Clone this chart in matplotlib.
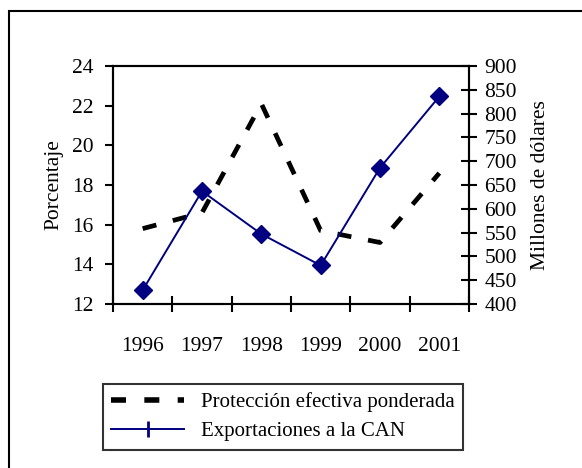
import matplotlib.pyplot as plt
from matplotlib.lines import Line2D
from matplotlib.patches import Rectangle

years = ['1996', '1997', '1998', '1999', '2000', '2001']
proteccion = [15.8, 16.6, 22.1, 15.7, 15.1, 18.6]   # porcentaje
exportaciones = [429, 637, 547, 481, 686, 836]      # millones de dolares

plt.rcParams['font.family'] = ['Liberation Serif', 'DejaVu Serif']
fs = 15.5

fig = plt.figure(figsize=(5.82, 4.68), dpi=100)
ax = fig.add_axes([113 / 582, 1 - 304 / 468, 356 / 582, 238 / 468])
ax2 = ax.twinx()

x = list(range(len(years)))
ax.plot(x, proteccion, color='black', lw=3.4, ls=(0, (3.0, 3.6)), solid_capstyle='butt', zorder=2)
ax2.plot(x, exportaciones, color='#000080', lw=1.4, marker='D', ms=9, zorder=3)

ax.set_xlim(-0.5, 5.5)
ax.set_ylim(12, 24)
ax.set_yticks(range(12, 25, 2))
ax2.set_ylim(400, 900)
ax2.set_yticks(range(400, 901, 50))

# category axis: ticks between categories, labels centred
ax.set_xticks([i - 0.5 for i in range(len(years) + 1)])
ax.set_xticklabels([])
ax.set_xticks(x, minor=True)
ax.set_xticklabels(years, minor=True)
ax.tick_params(axis='x', which='major', direction='inout', length=12, width=1.5)
ax.tick_params(axis='x', which='minor', length=0, pad=24, labelsize=fs)
ax.tick_params(axis='y', direction='out', length=6, width=1.5, pad=8, labelsize=fs)
ax2.tick_params(axis='y', direction='inout', length=12, width=1.5, pad=5, labelsize=fs)

for a in (ax, ax2):
    for s in a.spines.values():
        s.set_linewidth(1.5)

ax.set_ylabel('Porcentaje', fontsize=fs, labelpad=6)
ax2.set_ylabel('Millones de dólares', fontsize=fs, labelpad=10)

handles = [
    Line2D([], [], color='black', lw=4, ls=(0, (2.7, 3.3)), solid_capstyle='butt'),
    Line2D([], [], color='#000080', lw=1.4, marker='|', ms=11, mew=2),
]
leg = fig.legend(handles, ['Protección efectiva ponderada', 'Exportaciones a la CAN'],
                 loc='upper left', bbox_to_anchor=(103 / 582, 1 - 384 / 468),
                 fontsize=15, frameon=True, fancybox=False, handlelength=3.5,
                 handletextpad=0.8, borderpad=0.4, labelspacing=0.45, borderaxespad=0)
leg.get_frame().set_edgecolor('black')
leg.get_frame().set_linewidth(1.5)

fig.patches.append(Rectangle((9 / 582, -0.1), 1.2, 1.1 - 11 / 468, transform=fig.transFigure,
                             fill=False, lw=1.5, edgecolor='black'))

fig.savefig('out.png', dpi=100)
